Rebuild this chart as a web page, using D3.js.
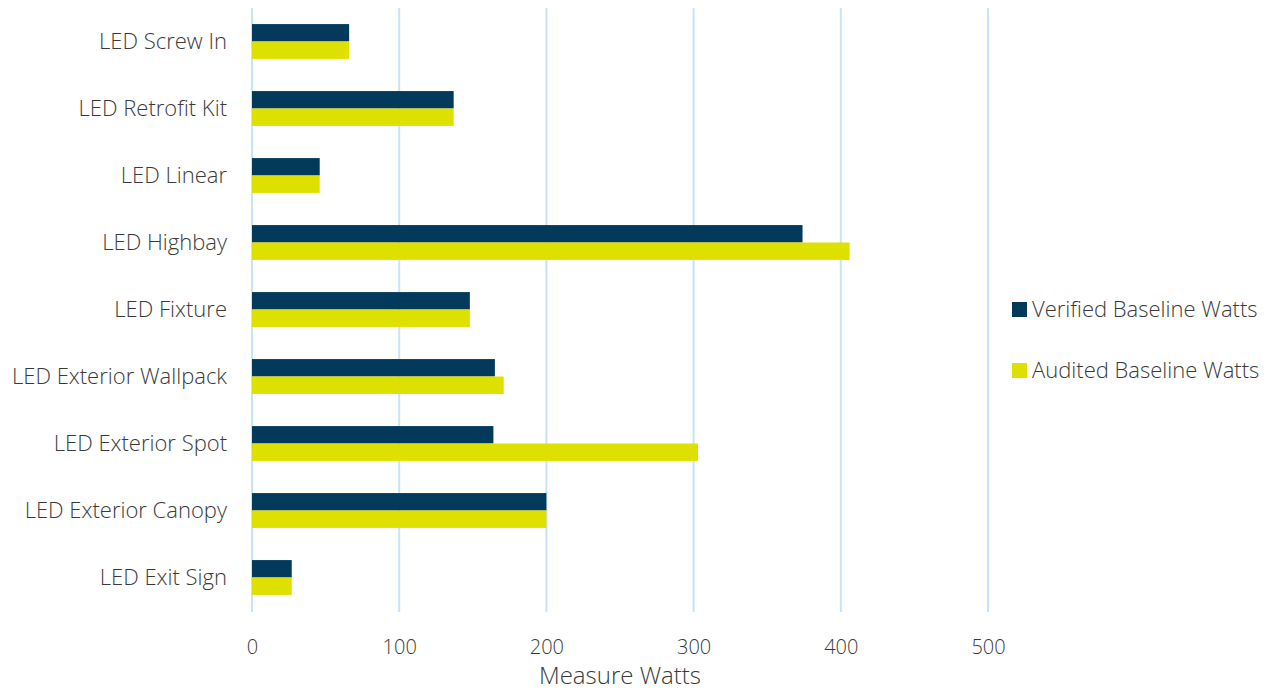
<!DOCTYPE html>
<html>
<head>
<meta charset="utf-8">
<script src="https://cdn.jsdelivr.net/npm/d3@7"></script>
<style>
  html, body { margin: 0; padding: 0; background: #fff; }
  svg text { font-family: "Open Sans", "Noto Sans", sans-serif; font-weight: 300; fill: #3a3a3a; }
</style>
</head>
<body>
<svg id="chart" width="1270" height="691"></svg>
<script>
const categories = ["LED Screw In", "LED Retrofit Kit", "LED Linear", "LED Highbay", "LED Fixture",
  "LED Exterior Wallpack", "LED Exterior Spot", "LED Exterior Canopy", "LED Exit Sign"];
const verifiedWatts = [66, 137, 46, 374, 148, 165, 164, 200, 27];
const auditedWatts  = [66, 137, 46, 406, 148, 171, 303, 200, 27];
const seriesNames = ["Verified Baseline Watts", "Audited Baseline Watts"];
const seriesColors = ["#033a5c", "#dee000"];
const xTicks = [0, 100, 200, 300, 400, 500];
const xTitle = "Measure Watts";

const svg = d3.select("#chart");
const margin = { left: 252, right: 282, top: 8, bottom: 80 };
const width = 1270, height = 691;

const x = d3.scaleLinear().domain([0, 500]).range([margin.left, 988]);
const y = d3.scaleBand().domain(categories).range([margin.top, height - margin.bottom]).paddingInner(0.48).paddingOuter(0.24);
const ySub = d3.scaleBand().domain([0, 1]).range([0, y.bandwidth()]);

// vertical gridlines
svg.append("g").selectAll("line").data(xTicks).join("line")
  .attr("x1", d => x(d)).attr("x2", d => x(d))
  .attr("y1", margin.top).attr("y2", height - margin.bottom + 1)
  .attr("stroke", "#c6e4f8").attr("stroke-width", 2);

// bars
const series = [verifiedWatts, auditedWatts];
series.forEach((vals, si) => {
  svg.append("g").selectAll("rect").data(categories).join("rect")
    .attr("x", x(0))
    .attr("y", c => y(c) + ySub(si))
    .attr("width", (c, i) => x(vals[i]) - x(0))
    .attr("height", ySub.bandwidth())
    .attr("fill", seriesColors[si]);
});

// value axis labels
const xAxis = d3.axisBottom(x).tickValues(xTicks).tickSize(0).tickPadding(0);
const gx = svg.append("g").attr("transform", `translate(0, ${height - margin.bottom})`).call(xAxis);
gx.select(".domain").remove();
gx.selectAll("text").attr("dy", null).attr("y", 43).attr("font-size", 20);

// category labels
const yAxis = d3.axisLeft(y).tickSize(0).tickPadding(0);
const gy = svg.append("g").attr("transform", `translate(227, 0)`).call(yAxis);
gy.select(".domain").remove();
gy.selectAll("text").attr("font-size", 22).attr("dy", "0.35em").attr("x", 0);
svg.selectAll(".tick text").style("fill", "#3a3a3a");
svg.selectAll("g[font-family]").attr("font-family", null).attr("font-size", null);

// axis title
svg.append("text").attr("x", (x(0) + x(500)) / 2).attr("y", 684)
  .attr("text-anchor", "middle").attr("font-size", 24).text(xTitle);

// legend
const legend = svg.append("g");
seriesNames.forEach((name, i) => {
  const ly = 309 + i * 61;
  legend.append("rect").attr("x", 1012).attr("y", ly - 7).attr("width", 15).attr("height", 15)
    .attr("fill", seriesColors[i]);
  legend.append("text").attr("x", 1032).attr("y", ly).attr("dy", "0.35em")
    .attr("font-size", 22).text(name);
});
</script>
</body>
</html>
